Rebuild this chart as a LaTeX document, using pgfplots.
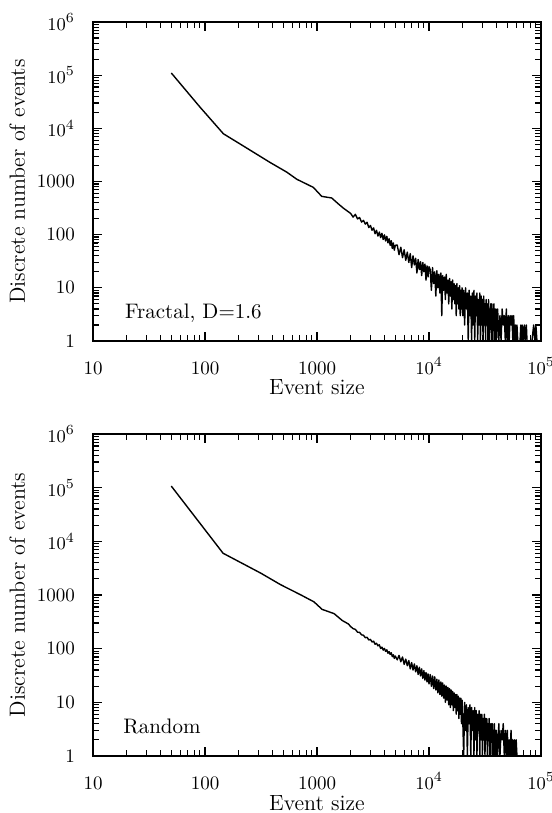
\documentclass[border=0pt]{standalone}
\usepackage{pgfplots}
\pgfplotsset{compat=1.18}
\usepackage{pgfplotstable}

% event-size histograms
\pgfplotstableread{
x y
50 110000
90 25200
146 7900
205 5100
380 2290
537 1500
661 1100
927 776
1102 525
1352 490
1549 380
1718 316
2000 250
2100 214
2200 241
2300 198
2400 210
2500 172
2600 186
2700 158
2800 171
2900 136
3000 149
3100 121
3200 134
3300 104
3400 121
3500 94
3600 112
3700 88
3800 106
3900 81
4000 99
4100 76
4200 93
4300 70
4400 84
4500 63
4600 77
4700 55
4800 70
4900 51
5000 63
5200 64
5400 42
5600 58
5800 37
6000 52
6200 33
6400 47
6600 30
6800 44
7000 24
7200 40
7400 27
7600 36
7800 19
8000 34
8200 22
8400 31
8600 17
8800 30
9000 20
9200 28
9400 14
9600 26
9800 16
10000 25
10250 22
10500 9
10750 24
11000 12
11250 20
11500 7
11750 21
12000 10
12250 18
12500 8
12750 19
13000 3
13250 17
13500 9
13750 16
14000 6
14250 18
14500 8
14750 14
15000 5
15250 15
15500 7
15750 13
16000 4
16250 14
16500 6
16750 12
17000 5
17250 11
17500 3
17750 12
18000 5
18250 10
18500 4
18750 11
19000 3
19250 9
19500 4
19750 10
20000 3
20400 9
20800 2
21200 10
21600 4
22000 8
22400 1
22800 9
23200 3
23600 7
24000 1
24400 8
24800 2
25200 9
25600 1
26000 7
26400 3
26800 8
27200 1
27600 6
28000 2
28400 8
28800 1
29200 7
29600 2
30000 6
30400 1
30800 7
31200 2
31600 5
32000 1
32400 6
32800 2
33200 5
33600 1
34000 6
34400 1
34800 4
35200 2
35600 5
36000 1
36400 5
36800 1
37200 4
37600 2
38000 5
38400 1
38800 4
39200 1
39600 4
40000 1
41000 4
42000 1
43000 3
44000 1
45000 4
46000 2
47000 3
48000 1
49000 4
50000 1
51000 3
52000 1
53000 3
54000 2
55000 3
56000 1
57000 3
58000 1
59000 2
60000 1
61000 2
62000 1
65000 1
66000 2
67000 1
68000 2
69000 1
71000 2
72000 1
74000 2
75000 1
78000 1
80000 1
83000 1
86000 2
88000 1
90000 2
92000 1
}\fractaldata

\pgfplotstableread{
x y
50 107000
145 6000
313 2570
475 1550
720 1000
940 745
1110 540
1420 450
1680 335
1900 290
2000 258
2100 236
2200 229
2300 203
2400 201
2500 181
2600 178
2700 160
2800 163
2900 145
3000 149
3100 133
3200 138
3300 121
3400 126
3500 113
3600 118
3700 101
3800 107
3900 94
4000 101
4100 89
4200 95
4300 82
4400 88
4500 78
4600 84
4700 71
4800 77
4900 66
5000 73
5200 62
5400 75
5600 57
5800 70
6000 51
6200 64
6400 48
6600 60
6800 42
7000 55
7200 40
7400 52
7600 37
7800 48
8000 33
8200 45
8400 31
8600 42
8800 28
9000 39
9200 26
9400 36
9600 24
9800 34
10000 22
10250 33
10500 20
10750 31
11000 18
11250 30
11500 17
11750 27
12000 15
12250 26
12500 14
12750 24
13000 13
13250 23
13500 12
13750 21
14000 10
14250 20
14500 11
14750 19
15000 9
15250 18
15500 8
15750 17
16000 9
16250 16
16500 7
16750 15
17000 8
17250 14
17500 6
17750 14
18000 7
18250 13
18500 5
18750 12
19000 6
19250 12
19500 4
19750 11
20000 5
20400 1
20800 10
21200 3
21600 9
22000 1
22400 8
22800 4
23200 9
23600 1
24000 8
24400 3
24800 7
25200 1
25600 8
26000 2
26400 7
26800 1
27200 6
27600 3
28000 7
28400 1
28800 6
29200 2
29600 6
30000 1
30400 5
30800 2
31200 6
31600 1
32000 5
32400 2
32800 5
33200 1
33600 4
34000 2
34400 5
34800 1
35200 4
35600 1
36000 4
36400 2
36800 4
37200 1
37600 3
38000 1
38400 4
38800 1
39200 3
39600 1
40000 3
41000 1
42000 4
43000 1
44000 3
45000 2
46000 4
47000 1
48000 3
49000 1
50000 3
51000 1
52000 2
53000 1
54000 3
55000 1
56000 2
57000 1
58000 2
59000 1
60000 2
61000 1
63000 1
}\randomdata

% shared look of both panels
\pgfplotsset{
  scale only axis,
  width=224pt,
  xmin=10, xmax=100000, ymin=1, ymax=1000000,
  xtick={10,100,1000,10000,100000},
  xticklabels={10,100,1000,$10^4$,$10^5$},
  ytick={1,10,100,1000,10000,100000,1000000},
  yticklabels={1,10,100,1000,$10^4$,$10^5$,$10^6$},
  extra x ticks={20,30,40,50,60,70,80,90,200,300,400,500,600,700,800,900,
    2000,3000,4000,5000,6000,7000,8000,9000,20000,30000,40000,50000,60000,70000,80000,90000},
  extra x tick labels={},
  extra y ticks={2,3,4,5,6,7,8,9,20,30,40,50,60,70,80,90,200,300,400,500,600,700,800,900,
    2000,3000,4000,5000,6000,7000,8000,9000,20000,30000,40000,50000,60000,70000,80000,90000,
    200000,300000,400000,500000,600000,700000,800000,900000},
  extra y tick labels={},
  extra tick style={major tick length=2.5pt},
  tick align=inside,
  tick pos=both,
  major tick length=4.5pt,
  every tick/.append style={black, line width=0.6pt},
  axis line style={line width=0.8pt},
  tick label style={font=\fontsize{9.5}{11}\selectfont},
  xticklabel style={text height=9pt, yshift=-4pt},
  yticklabel style={xshift=-5.5pt},
  xlabel={Event size},
  ylabel={Discrete number of events},
  label style={font=\fontsize{11}{13}\selectfont},
  xlabel style={at={(axis description cs:0.5,-0.169)}, anchor=base},
  ylabel style={at={(axis description cs:-0.152,0.5)}, anchor=base},
}

\begin{document}
\begin{tikzpicture}
\begin{loglogaxis}[height=159.5pt]
\addplot[black, line width=0.7pt, mark=none, line join=round] table {\fractaldata};
\node[anchor=base west, font=\fontsize{10.5}{12}\selectfont] at (rel axis cs:0.056,0.072) {Fractal, D=1.6};
\end{loglogaxis}

\begin{loglogaxis}[height=161pt, at={(0pt,-46.5pt)}, anchor=north west]
\addplot[black, line width=0.7pt, mark=none, line join=round] table {\randomdata};
\node[anchor=base west, font=\fontsize{10.5}{12}\selectfont] at (rel axis cs:0.052,0.071) {Random};
\end{loglogaxis}

\pgfresetboundingbox
\useasboundingbox (-46.5pt,-236pt) rectangle (229pt,170.5pt);
\end{tikzpicture}
\end{document}
